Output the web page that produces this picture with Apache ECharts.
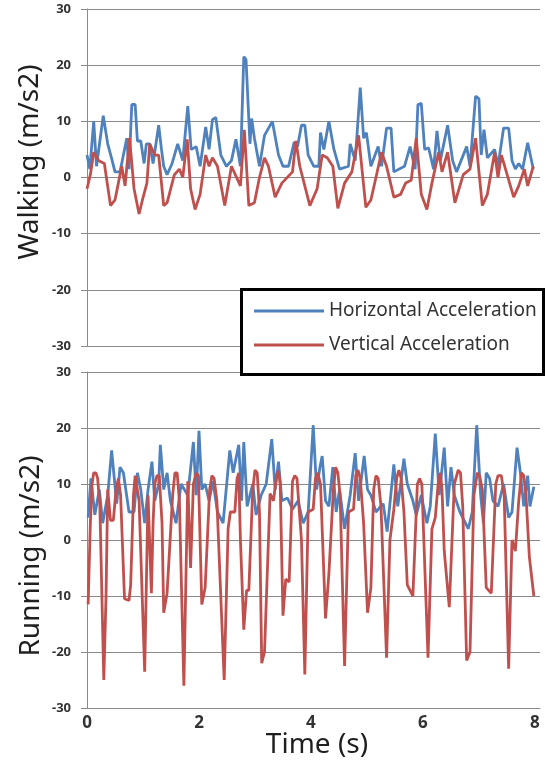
<!DOCTYPE html>
<html>
<head>
<meta charset="utf-8">
<script src="https://cdn.jsdelivr.net/npm/echarts@6/dist/echarts.min.js"></script>
<style>
html,body{margin:0;padding:0;background:#fff;}
#c{width:546px;height:770px;}
</style>
</head>
<body>
<div id="c"></div>
<script>
// ---- Data ----
const seriesNames = ['Horizontal Acceleration', 'Vertical Acceleration'];
const xTickLabels = [0, 2, 4, 6, 8];
const yTickLabels = [-30, -20, -10, 0, 10, 20, 30];

// Walking, horizontal acceleration (time s, value m/s2)
const walkH_t = [0.00,0.05,0.12,0.17,0.29,0.37,0.45,0.50,0.59,0.65,0.71,0.75,0.80,0.86,0.90,0.96,1.02,1.06,1.12,1.18,1.28,1.33,1.37,1.43,1.52,1.62,1.71,1.80,1.86,1.95,2.02,2.12,2.18,2.24,2.30,2.39,2.49,2.58,2.66,2.74,2.80,2.84,2.91,2.94,2.99,3.08,3.17,3.31,3.42,3.50,3.60,3.70,3.76,3.83,3.89,3.95,4.05,4.14,4.17,4.23,4.32,4.41,4.51,4.67,4.70,4.79,4.88,4.94,4.99,5.07,5.20,5.26,5.35,5.43,5.48,5.67,5.77,5.86,5.91,5.97,6.03,6.10,6.19,6.25,6.31,6.44,6.53,6.60,6.78,6.84,6.94,7.00,7.04,7.09,7.15,7.28,7.34,7.44,7.53,7.59,7.65,7.71,7.78,7.87,7.97];
const walkH_v = [4,1.5,10,2,11,6,3,1,1,4,7,1.5,13,13,6.5,6.5,2.5,6,6,2.5,9.3,5,2,0.5,2.5,6,3,12.7,5,5.5,2,9,5,10.3,10.7,4,2,3,6.8,2,21.5,21,6,10.5,7,2,7.5,10,4,2,2,6.3,5.5,9.3,9.3,4,2,2,8,5,10,5,1.5,2,6,3,16,7,8,2,5.5,2,8.8,8.8,1,2,5.5,1.5,13,13.2,5,5.3,1.5,8.3,3,9.3,3,1,5.5,2,14.5,14,4,8.5,3.5,5,2,8.8,8.8,3,1.5,2.5,1.5,6.2,1.5];

// Walking, vertical acceleration
const walkV_t = [0.00,0.06,0.12,0.21,0.31,0.42,0.50,0.56,0.62,0.68,0.76,0.84,0.93,0.99,1.07,1.12,1.21,1.28,1.37,1.43,1.56,1.65,1.71,1.79,1.85,1.93,2.02,2.12,2.18,2.24,2.33,2.46,2.58,2.74,2.81,2.89,2.99,3.08,3.17,3.24,3.36,3.48,3.67,3.73,3.80,3.98,4.11,4.20,4.29,4.39,4.48,4.60,4.73,4.85,4.98,5.07,5.16,5.26,5.35,5.48,5.60,5.69,5.79,5.88,5.97,6.07,6.16,6.28,6.34,6.44,6.57,6.72,6.84,6.94,7.06,7.15,7.28,7.34,7.40,7.46,7.62,7.71,7.81,7.87,7.97];
const walkV_v = [-2,0.5,4.5,3,2.5,-5,-4,-1,2,-1.5,7,-2,-6.5,-4,-1,6,4,4,-5,-4.5,0.5,1.5,0,6.8,-2,-5.7,-3,4,2,3.5,2,-5,2,-1.5,8.5,-5,-4.5,0,3.5,2,-3.5,-1,1,6.5,2,-5,-2,4,3.5,2,-5.5,-1,1,7.5,-5.3,-4,0,4.5,2,-3.5,-3,-1,-0.5,7,-3,-5.7,-1,4.5,1,4.5,-4.5,0.5,1.5,7,-5,-3,4.5,0,4,2,-3.5,-1.5,1.5,-1.5,2];

// Running, horizontal acceleration
const runH_t = [0.02,0.07,0.14,0.22,0.28,0.37,0.44,0.53,0.59,0.65,0.75,0.84,0.90,0.96,1.03,1.09,1.16,1.21,1.28,1.31,1.37,1.43,1.49,1.59,1.68,1.80,1.90,1.95,2.00,2.05,2.11,2.18,2.25,2.33,2.43,2.55,2.61,2.71,2.76,2.80,2.86,2.96,3.02,3.11,3.20,3.30,3.36,3.42,3.48,3.58,3.67,3.77,3.86,3.95,4.04,4.10,4.16,4.20,4.26,4.32,4.39,4.45,4.51,4.60,4.70,4.79,4.85,4.95,5.01,5.07,5.16,5.29,5.36,5.48,5.55,5.66,5.72,5.82,5.88,5.97,6.07,6.13,6.22,6.29,6.38,6.44,6.50,6.56,6.66,6.81,6.88,6.96,7.03,7.08,7.13,7.19,7.25,7.34,7.44,7.53,7.59,7.68,7.74,7.80,7.87,7.91,7.98];
const runH_v = [4,11,4.5,9,3,8,16,6.5,13,12,5,5,12,9,3,9,14,7,10,17,9,12,7,3,10,8,17.5,8,19.5,9,10,7,10.5,5,3,16,12,17,7,17.5,6,10,4.5,8,10,18,9,14,7,7.5,5.5,7,3,5,20.5,9,13,15,7,6,13,5,9,2,8,15.5,7,15,9,8,5,6.5,1.5,13.5,6,14.5,10,7,4.5,8,3,6,19,8,16.5,6,13,8,5,2,5,20.5,8,3,12,11,7,6,10,4,5,16.5,12,6,11.5,6,9.5];

// Running, vertical acceleration
const runV_t = [0.02,0.06,0.09,0.12,0.16,0.19,0.23,0.30,0.34,0.37,0.42,0.47,0.52,0.56,0.60,0.67,0.75,0.78,0.83,0.86,0.89,0.93,1.03,1.09,1.15,1.18,1.21,1.25,1.29,1.34,1.37,1.43,1.53,1.57,1.61,1.65,1.73,1.80,1.85,1.90,1.95,1.99,2.05,2.11,2.19,2.23,2.27,2.32,2.45,2.52,2.56,2.64,2.68,2.71,2.74,2.80,2.85,2.89,2.96,3.00,3.04,3.08,3.12,3.17,3.27,3.33,3.38,3.42,3.45,3.50,3.55,3.61,3.67,3.71,3.75,3.83,3.89,3.95,4.04,4.08,4.12,4.17,4.26,4.32,4.40,4.44,4.48,4.52,4.60,4.67,4.76,4.80,4.84,4.88,4.94,5.01,5.07,5.12,5.16,5.20,5.25,5.35,5.41,5.48,5.53,5.57,5.61,5.66,5.72,5.82,5.90,5.94,5.98,6.09,6.16,6.22,6.27,6.31,6.34,6.38,6.47,6.56,6.63,6.67,6.71,6.78,6.84,6.91,6.97,7.01,7.06,7.13,7.22,7.30,7.34,7.40,7.45,7.53,7.59,7.65,7.71,7.76,7.80,7.84,7.90,7.98];
const runV_v = [-11.5,3,10,12,12,11,6,-25,-10,9,3.5,3.5,9,11,8,-10.5,-10.8,-8,8,11.5,11.5,7,-23.5,8,-9.5,3,10,11.5,11.5,3,-13,-9.5,8,12,12,7,-26,10.5,-5,10,12,11.5,-11.5,-8.5,9,11.5,11,7,-25,2,5,5,11,12,0,-16,-9,-9,9,12.5,12,5,-22,-20,8.3,7,11,12.5,10,-13.5,-7,-7.5,10.5,11.5,11,0,-24,5,5.5,11,12,10,-14,-6,9,13,12,8,-22.5,5,5.5,11.5,12.5,11,3,-13,-8.5,9,11.5,11,6,-21,0,5.5,11,12.5,11,5,-8,-10,10,11,10,-21,2,4,10,12,9,-2,-12,10,12.5,12,6,-21.5,-20,8,12,11.5,9,-8.5,-9.5,10,11.5,11.5,8,-23,0,-2,7,12,11.5,8,-3,-10];

function pairs(t, v) { return t.map((x, i) => [x, v[i]]); }

const BLUE = '#4F81BD', RED = '#C0504D';
const GRID_COLOR = '#8a8a8a';
const LABEL_COLOR = '#333';
const FONT = '"Noto Sans", "DejaVu Sans", sans-serif';
const LW = 2.8;

function yAxisCfg(gi) {
  return {
    gridIndex: gi, type: 'value', min: -30, max: 30, interval: 10,
    axisLine: { show: true, lineStyle: { color: GRID_COLOR, width: 1 } },
    axisTick: { show: true, length: 6, lineStyle: { color: GRID_COLOR } },
    axisLabel: { margin: 16, fontSize: 13, fontWeight: 'bold', color: LABEL_COLOR, fontFamily: FONT },
    splitLine: { show: true, lineStyle: { color: GRID_COLOR, width: 1 } }
  };
}

const chart = echarts.init(document.getElementById('c'), null, { renderer: 'canvas' });
const option = {
  animation: false,
  backgroundColor: '#fff',
  grid: [
    { left: 87, top: 9, right: 6, height: 337 },
    { left: 87, top: 372, right: 6, height: 336 }
  ],
  xAxis: [
    { gridIndex: 0, type: 'value', min: 0, max: 8.09,
      axisLine: { show: false }, axisTick: { show: false }, axisLabel: { show: false }, splitLine: { show: false } },
    { gridIndex: 1, type: 'value', min: 0, max: 8.09,
      axisLine: { show: true, onZero: false, lineStyle: { color: GRID_COLOR } },
      axisTick: { show: false },
      axisLabel: { customValues: xTickLabels, margin: 7, fontSize: 17, fontWeight: 'bold', color: LABEL_COLOR, fontFamily: FONT },
      splitLine: { show: false } }
  ],
  yAxis: [yAxisCfg(0), yAxisCfg(1)],
  legend: {
    orient: 'vertical', left: 254, top: 299, z: 60,
    data: seriesNames,
    icon: 'rect', itemWidth: 70, itemHeight: 3, itemGap: 10,
    textStyle: { fontSize: 19, color: '#333', fontFamily: FONT, lineHeight: 24 },
    padding: 0
  },
  graphic: [
    { type: 'rect', z: 50, shape: { x: 241.5, y: 289.5, width: 302, height: 85 },
      style: { fill: '#fff', stroke: '#000', lineWidth: 3 } },
    { type: 'text', x: 30, y: 162, rotation: Math.PI / 2,
      style: { text: 'Walking (m/s2)', font: '28px ' + FONT, fill: '#1f1f1f', textAlign: 'center', textVerticalAlign: 'middle' } },
    { type: 'text', x: 31, y: 556, rotation: Math.PI / 2,
      style: { text: 'Running (m/s2)', font: '28px ' + FONT, fill: '#1f1f1f', textAlign: 'center', textVerticalAlign: 'middle' } },
    { type: 'text', x: 317, y: 745,
      style: { text: 'Time (s)', font: '28px ' + FONT, fill: '#1f1f1f', textAlign: 'center', textVerticalAlign: 'middle' } }
  ],
  series: [
    { name: seriesNames[0], type: 'line', xAxisIndex: 0, yAxisIndex: 0, data: pairs(walkH_t, walkH_v),
      showSymbol: false, color: BLUE, lineStyle: { width: LW, color: BLUE } },
    { name: seriesNames[1], type: 'line', xAxisIndex: 0, yAxisIndex: 0, data: pairs(walkV_t, walkV_v),
      showSymbol: false, color: RED, lineStyle: { width: LW, color: RED } },
    { name: seriesNames[0], type: 'line', xAxisIndex: 1, yAxisIndex: 1, data: pairs(runH_t, runH_v),
      showSymbol: false, color: BLUE, lineStyle: { width: LW, color: BLUE } },
    { name: seriesNames[1], type: 'line', xAxisIndex: 1, yAxisIndex: 1, data: pairs(runV_t, runV_v),
      showSymbol: false, color: RED, lineStyle: { width: LW, color: RED } }
  ]
};
chart.setOption(option);
</script>
</body>
</html>
